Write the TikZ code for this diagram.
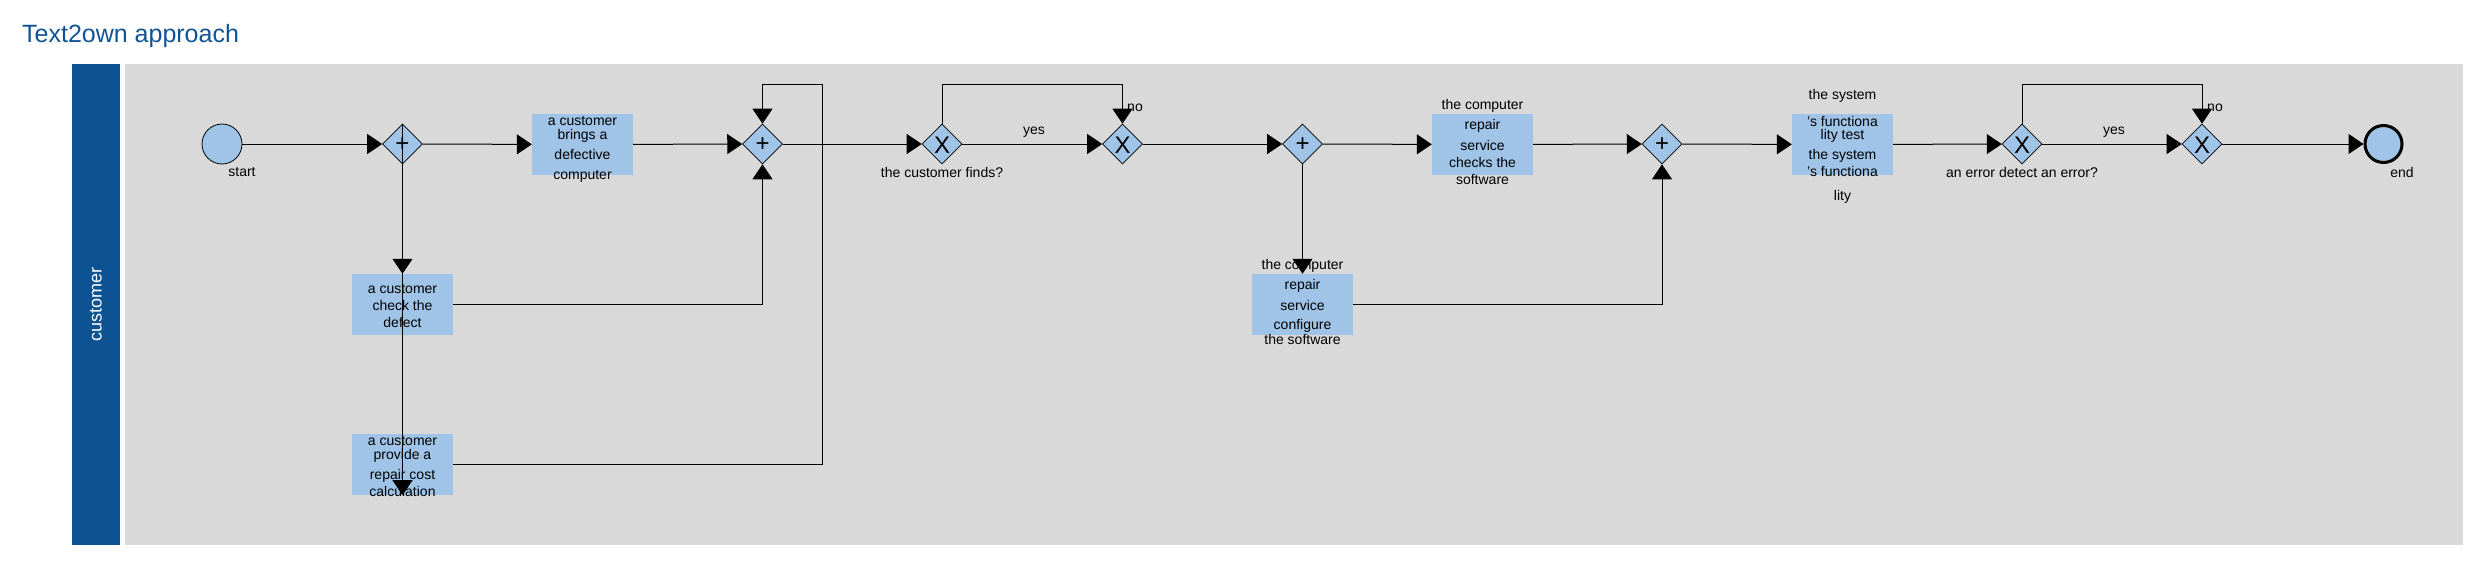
\documentclass[tikz,border=0pt]{standalone}
\usepackage{fontspec}
\setmainfont{Liberation Sans}
\usetikzlibrary{arrows.meta,shapes.geometric}
\definecolor{lanegray}{RGB}{217,217,217}
\definecolor{bandblue}{RGB}{13,83,148}
\definecolor{fillb}{RGB}{159,196,232}
\definecolor{ttl}{RGB}{16,84,150}
\begin{document}
\begin{tikzpicture}[x=1pt,y=-1pt,
 flow/.style={draw=black,line width=1pt,-{Triangle[length=15pt,width=20pt]}},
 task/.style={rectangle,fill=fillb,minimum width=101pt,minimum height=61pt,inner sep=0pt},
 tasktext/.style={align=center,font=\fontsize{14}{14}\selectfont,anchor=base,inner sep=0pt},
 gw/.style={diamond,draw=black,line width=0.6pt,fill=fillb,minimum width=40pt,minimum height=40pt,inner sep=0pt},
 gwmark/.style={font=\fontsize{24}{24}\selectfont,inner sep=0pt},
 ev/.style={circle,fill=fillb,draw=black,minimum size=40pt,inner sep=0pt},
 lbl/.style={font=\fontsize{14}{14}\selectfont,inner sep=0pt},
]
\useasboundingbox (0,0) rectangle (2479,586);
% lane
\fill[lanegray] (125,64) rectangle (2463,545);
\fill[bandblue] (72,64) rectangle (120,545);
\node[rotate=90,text=white,font=\fontsize{18}{18}\selectfont,inner sep=0pt] (lanelbl) at (96,304.5) {customer};
\node[anchor=base west,text=ttl,font=\fontsize{25}{25}\selectfont,inner sep=0pt] (title) at (22,43) {Text2own approach};

% events
\node[ev,line width=0.8pt] (start) at (222,144) {};
\node[ev,line width=3pt,minimum size=37pt] (end) at (2383.5,144) {};
\node[lbl] (startlbl) at (242,172) {start};
\node[lbl] (endlbl) at (2402,172) {end};

% gateways
\node[gw] (g1) at (402.5,144) {};
\node[gwmark] (g1m) at (402.5,145) {+};
\node[gw] (g2) at (762.5,144) {};
\node[gwmark] (g2m) at (762.5,145) {+};
\node[gw] (g3) at (942,144) {};
\node[gwmark] (g3m) at (942,145.5) {X};
\node[gw] (g4) at (1122.5,144) {};
\node[gwmark] (g4m) at (1122.5,145.5) {X};
\node[gw] (g5) at (1302.5,144) {};
\node[gwmark] (g5m) at (1302.5,145) {+};
\node[gw] (g6) at (1662,144) {};
\node[gwmark] (g6m) at (1662,145) {+};
\node[gw] (g7) at (2022,144) {};
\node[gwmark] (g7m) at (2022,145.5) {X};
\node[gw] (g8) at (2202,144) {};
\node[gwmark] (g8m) at (2202,145.5) {X};

\node[lbl] (g3lbl) at (942,172) {the customer finds?};
\node[lbl] (g7lbl) at (2022,172) {an error detect an error?};
\node[lbl] (yes1) at (1034,132) {yes};
\node[lbl] (yes2) at (2114,132) {yes};
\node[lbl] (no1) at (1135,108) {no};
\node[lbl] (no2) at (2215,108) {no};

% tasks (text anchored at the baseline of the last line)
\node[task] (t1) at (582.5,144.5) {};
\node[tasktext] (t1x) at (582.5,179) {a customer\\ brings a\\[6pt] defective\\[6pt] computer};
\node[task] (t2) at (402.5,304.5) {};
\node[tasktext] (t2x) at (402.5,327) {a customer\\[3pt] check the\\[3pt] defect};
\node[task] (t3) at (402.5,464.5) {};
\node[tasktext] (t3x) at (402.5,496) {a customer\\ provide a\\[6pt] repair cost\\[3pt] calculation};
\node[task] (t4) at (1482.5,144.5) {};
\node[tasktext] (t4x) at (1482.5,184) {the computer\\[6pt] repair\\[7pt] service\\[3pt] checks the\\[3pt] software};
\node[task] (t5) at (1302.5,304.5) {};
\node[tasktext] (t5x) at (1302.5,344) {the computer\\[6pt] repair\\[7pt] service\\[5pt] configure\\[1pt] the software};
\node[task] (t6) at (1842.5,144.5) {};
\node[tasktext] (t6x) at (1842.5,200) {the system\\[13pt] 's functiona\\[-1pt] lity test\\[6pt] the system\\[3pt] 's functiona\\[10pt] lity};

% loop corner points
\coordinate (c1) at (822,84);
\coordinate (c2) at (1122.5,84);
\coordinate (c3) at (2202,84);

% flows
\draw[flow] (start) -- (g1);
\draw[flow] (g1) -- (t1);
\draw[flow] (t1) -- (g2);
\draw[flow] (g2) -- (g3);
\draw[flow] (g3) -- (g4);
\draw[flow] (g4) -- (g5);
\draw[flow] (g5) -- (t4);
\draw[flow] (t4) -- (g6);
\draw[flow] (g6) -- (t6);
\draw[flow] (t6) -- (g7);
\draw[flow] (g7) -- (g8);
\draw[flow] (g8) -- (end);
\draw[flow] (g1.north) -- (t2.north);
\draw[flow] (g1.north) -- (t3.south);
\draw[flow] (t2.east) -| (g2.south);
\draw[flow] (t3.east) -| (c1) -| (g2.north);
\draw[flow] (g3.north) |- (c2) -- (g4.north);
\draw[flow] (g5.south) -- (t5.north);
\draw[flow] (t5.east) -| (g6.south);
\draw[flow] (g7.north) |- (c3) -- (g8.north);
\end{tikzpicture}
\end{document}
